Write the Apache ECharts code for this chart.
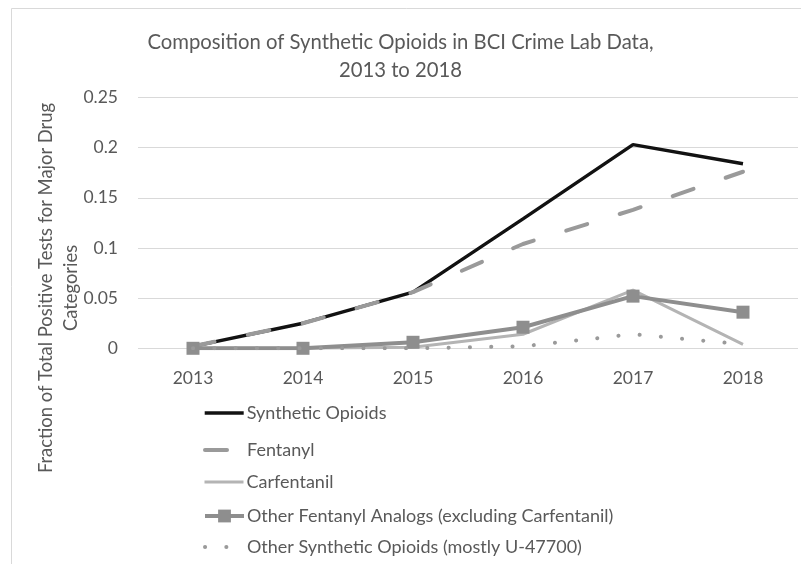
<!DOCTYPE html>
<html>
<head>
<meta charset="utf-8">
<script src="https://cdn.jsdelivr.net/npm/echarts@6/dist/echarts.min.js"></script>
<style>
  html, body { margin: 0; padding: 0; background: #fff; }
  #chart { width: 801px; height: 564px; }
</style>
</head>
<body>
<div id="chart"></div>
<script>
// Fraction of positive tests by synthetic opioid group, per year
const years = ['2013', '2014', '2015', '2016', '2017', '2018'];
const syntheticOpioids = [0.002, 0.025, 0.056, 0.129, 0.203, 0.184];
const fentanyl = [0.002, 0.025, 0.056, 0.104, 0.138, 0.176];
const carfentanil = [0, 0, 0.001, 0.014, 0.058, 0.004];
const otherAnalogs = [0, 0, 0.006, 0.021, 0.052, 0.036];
const otherSynthetic = [0, 0, 0, 0.002, 0.014, 0.004];
const yTicks = [0, 0.05, 0.1, 0.15, 0.2, 0.25];

const FONT = 'Lato';
const TEXT = '#595959';

const names = [
  'Synthetic Opioids',
  'Fentanyl',
  'Carfentanil',
  'Other Fentanyl Analogs (excluding Carfentanil)',
  'Other Synthetic Opioids (mostly U-47700)'
];

// one legend block per row, stacked below the plot
const legendRowsTop = [404, 441, 473, 507, 538];

const chart = echarts.init(document.getElementById('chart'), null, { renderer: 'canvas' });

chart.setOption({
  backgroundColor: '#fff',
  animation: false,
  title: {
    text: 'Composition of Synthetic Opioids in BCI Crime Lab Data,\n2013 to 2018',
    left: 'center',
    top: 28,
    padding: 0,
    textStyle: { fontFamily: FONT, fontSize: 20.3, fontWeight: 'normal', color: TEXT, lineHeight: 28 }
  },
  legend: names.map((n, i) => ({
    data: [n],
    left: 203,
    top: legendRowsTop[i],
    padding: 0,
    itemWidth: 39,
    itemHeight: 16,
    itemGap: 3,
    selectedMode: false,
    lineStyle: { width: 'inherit' },
    textStyle: { fontFamily: FONT, fontSize: 18, color: TEXT, padding: [0, 0, 0, -2] }
  })),
  graphic: [
    {
      type: 'rect',
      shape: { x: 11.5, y: 8.5, width: 900, height: 700 },
      style: { fill: 'none', stroke: '#d9d9d9', lineWidth: 1 },
      silent: true
    },
    {
      type: 'text',
      x: 59, y: 288,
      rotation: Math.PI / 2,
      style: {
        text: 'Fraction of Total Positive Tests for Major Drug\nCategories',
        fontFamily: FONT, fontSize: 18.4, fill: TEXT,
        align: 'center', verticalAlign: 'middle', lineHeight: 25
      },
      silent: true
    }
  ],
  grid: { left: 138, right: 3, top: 97.5, bottom: 215.7, containLabel: false },
  xAxis: {
    type: 'category',
    data: years,
    boundaryGap: true,
    axisLine: { show: false },
    axisTick: { show: false },
    axisLabel: { fontFamily: FONT, fontSize: 17.5, color: TEXT, margin: 21 }
  },
  yAxis: {
    type: 'value',
    min: yTicks[0],
    max: yTicks[yTicks.length - 1],
    interval: 0.05,
    axisLine: { show: false },
    axisTick: { show: false },
    splitLine: { lineStyle: { color: '#d9d9d9', width: 1 } },
    axisLabel: {
      fontFamily: FONT, fontSize: 17.5, color: TEXT, margin: 20,
      formatter: v => String(Math.round(v * 100) / 100)
    }
  },
  series: [
    {
      name: names[0], type: 'line', data: syntheticOpioids,
      symbol: 'none', z: 2,
      lineStyle: { color: '#121212', width: 3.4 },
      itemStyle: { color: '#121212', opacity: 0 }
    },
    {
      name: names[1], type: 'line', data: fentanyl,
      symbol: 'none', z: 3,
      lineStyle: { color: '#9a9a9a', width: 4, type: [22, 34], cap: 'round' },
      itemStyle: { color: '#9a9a9a', opacity: 0 }
    },
    {
      name: names[2], type: 'line', data: carfentanil,
      symbol: 'none', z: 4,
      lineStyle: { color: '#b4b4b4', width: 3 },
      itemStyle: { color: '#b4b4b4', opacity: 0 }
    },
    {
      name: names[3], type: 'line', data: otherAnalogs,
      symbol: 'rect', symbolSize: 13, z: 5,
      lineStyle: { color: '#8e8e8e', width: 4 },
      itemStyle: { color: '#8e8e8e' }
    },
    {
      name: names[4], type: 'line', data: otherSynthetic,
      symbol: 'none', z: 6,
      lineStyle: { color: '#9a9a9a', width: 4, type: [0.1, 21.2], cap: 'round' },
      itemStyle: { color: '#9a9a9a', opacity: 0 }
    }
  ]
});
</script>
</body>
</html>
